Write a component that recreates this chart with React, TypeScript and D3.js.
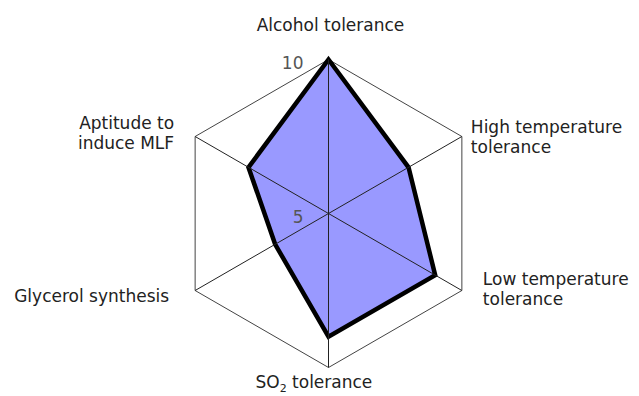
import React, { useRef, useEffect } from "react";
import * as d3 from "d3";

// axes, clockwise from the top
const axes = [
  "Alcohol tolerance",
  "High temperature tolerance",
  "Low temperature tolerance",
  "SO2 tolerance",
  "Glycerol synthesis",
  "Aptitude to induce MLF",
];
const values = [10, 8, 9, 9, 7, 8];
const tickValues = [5, 10];

export default function App() {
  const svgRef = useRef<SVGSVGElement>(null);

  useEffect(() => {
    const width = 639;
    const height = 396;
    const cx = 328.5;
    const cy = 213.5;
    const radius = 154;

    const svg = d3.select(svgRef.current);
    svg.selectAll("*").remove();
    svg.attr("width", width).attr("height", height)
      .style("font-family", "'DejaVu Sans', sans-serif");

    const r = d3.scaleLinear().domain([5, 10]).range([0, radius]);
    const angle = (i: number) => (i * 2 * Math.PI) / axes.length;
    const pt = (i: number, v: number): [number, number] => [
      cx + r(v) * Math.sin(angle(i)),
      cy - r(v) * Math.cos(angle(i)),
    ];

    const g = svg.append("g");

    // outer hexagon
    g.append("path")
      .attr("d", d3.line()(axes.map((_, i) => pt(i, 10))) + "Z")
      .attr("fill", "none")
      .attr("stroke", "#444")
      .attr("stroke-width", 1);

    // data polygon
    g.append("path")
      .attr("d", d3.line()(values.map((v, i) => pt(i, v))) + "Z")
      .attr("fill", "#9999ff")
      .attr("stroke", "#000")
      .attr("stroke-width", 4.5)
      .attr("stroke-linejoin", "miter");

    // spokes
    axes.forEach((_, i) => {
      const [x, y] = pt(i, 10);
      g.append("line")
        .attr("x1", cx).attr("y1", cy)
        .attr("x2", x).attr("y2", y)
        .attr("stroke", "#222")
        .attr("stroke-width", 1);
    });

    // tick labels
    tickValues.forEach(t => {
      g.append("text")
        .attr("x", cx - 25)
        .attr("y", cy - r(t) + 9)
        .attr("text-anchor", "end")
        .attr("font-size", 17)
        .attr("fill", "#555")
        .text(t);
    });

    // axis labels: [dx, dy, anchor, lines]
    const place: [number, number, string, string[]][] = [
      [2, -29, "middle", ["Alcohol tolerance"]],
      [9, -4, "start", ["High temperature", "tolerance"]],
      [21, -6, "start", ["Low temperature", "tolerance"]],
      [-73, 20, "start", ["SO", " tolerance"]],
      [-26, 11, "end", ["Glycerol synthesis"]],
      [-21, -8, "end", ["Aptitude to", "induce MLF"]],
    ];
    axes.forEach((_, i) => {
      const [x, y] = pt(i, 10);
      const [dx, dy, anchor, lines] = place[i];
      if (i === 3) {
        const t = g.append("text")
          .attr("x", x + dx)
          .attr("y", y + dy)
          .attr("text-anchor", anchor)
          .attr("font-size", 17)
          .attr("fill", "#222");
        t.append("tspan").text("SO");
        t.append("tspan").attr("font-size", 11).attr("dy", 4).text("2");
        t.append("tspan").attr("dy", -4).text(" tolerance");
      } else {
        lines.forEach((l, k) => {
          g.append("text")
            .attr("x", x + dx)
            .attr("y", y + dy + k * 20)
            .attr("text-anchor", anchor)
            .attr("font-size", 17)
            .attr("fill", "#222")
            .text(l);
        });
      }
    });
  }, []);

  return <svg ref={svgRef} style={{ position: "absolute", left: 0, top: 0 }}></svg>;
}
